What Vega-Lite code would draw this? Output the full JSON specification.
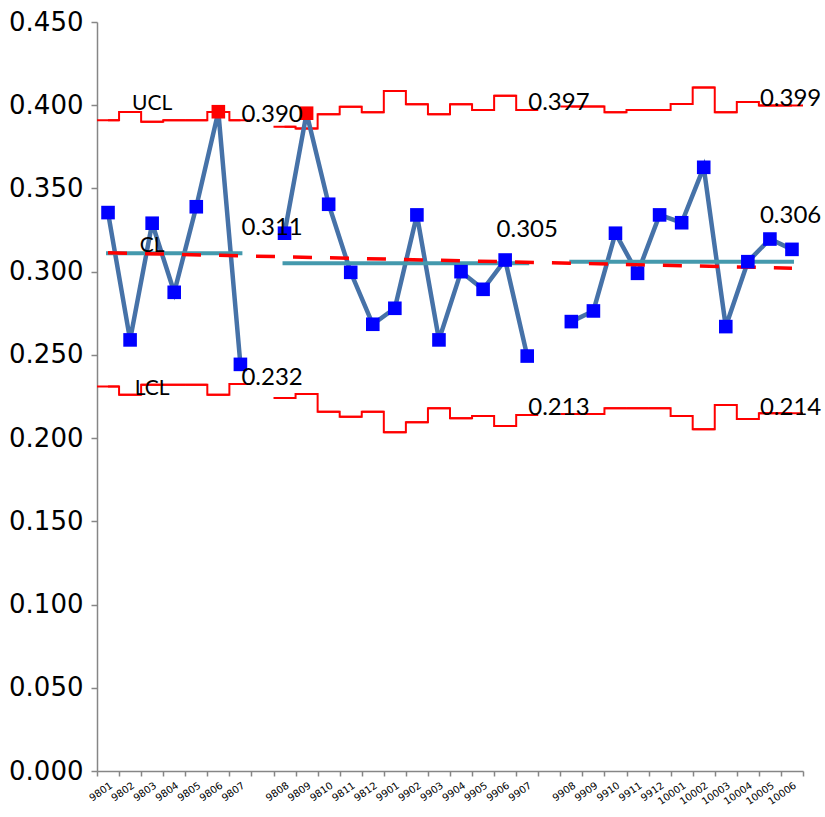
{
  "$schema": "https://vega.github.io/schema/vega-lite/v6.json",
  "width": 706,
  "height": 749,
  "padding": {"left": 8, "top": 9, "right": 5, "bottom": 5},
  "background": "white",
  "config": {"view": {"stroke": null}},
  "datasets": {
    "main": [
      {"cat": "9801", "seg": 1, "p": 0.3355, "ucl": 0.391, "lcl": 0.231, "cl": 0.311, "flag": "in"},
      {"cat": "9802", "seg": 1, "p": 0.259, "ucl": 0.396, "lcl": 0.226, "cl": 0.311, "flag": "in"},
      {"cat": "9803", "seg": 1, "p": 0.3291, "ucl": 0.390, "lcl": 0.232, "cl": 0.311, "flag": "in"},
      {"cat": "9804", "seg": 1, "p": 0.2876, "ucl": 0.391, "lcl": 0.232, "cl": 0.311, "flag": "in"},
      {"cat": "9805", "seg": 1, "p": 0.339, "ucl": 0.391, "lcl": 0.232, "cl": 0.311, "flag": "in"},
      {"cat": "9806", "seg": 1, "p": 0.3961, "ucl": 0.396, "lcl": 0.226, "cl": 0.311, "flag": "out"},
      {"cat": "9807", "seg": 1, "p": 0.2443, "ucl": 0.391, "lcl": 0.2325, "cl": 0.311, "flag": "in"},
      {"cat": "9808", "seg": 2, "p": 0.3231, "ucl": 0.387, "lcl": 0.2241, "cl": 0.305, "flag": "in"},
      {"cat": "9809", "seg": 2, "p": 0.3952, "ucl": 0.386, "lcl": 0.2265, "cl": 0.305, "flag": "out"},
      {"cat": "9810", "seg": 2, "p": 0.3405, "ucl": 0.3946, "lcl": 0.2159, "cl": 0.305, "flag": "in"},
      {"cat": "9811", "seg": 2, "p": 0.2996, "ucl": 0.3991, "lcl": 0.2129, "cl": 0.305, "flag": "in"},
      {"cat": "9812", "seg": 2, "p": 0.2684, "ucl": 0.3958, "lcl": 0.2159, "cl": 0.305, "flag": "in"},
      {"cat": "9901", "seg": 2, "p": 0.278, "ucl": 0.4086, "lcl": 0.2035, "cl": 0.305, "flag": "in"},
      {"cat": "9902", "seg": 2, "p": 0.3341, "ucl": 0.4006, "lcl": 0.2095, "cl": 0.305, "flag": "in"},
      {"cat": "9903", "seg": 2, "p": 0.259, "ucl": 0.3946, "lcl": 0.2179, "cl": 0.305, "flag": "in"},
      {"cat": "9904", "seg": 2, "p": 0.300, "ucl": 0.4006, "lcl": 0.2119, "cl": 0.305, "flag": "in"},
      {"cat": "9905", "seg": 2, "p": 0.2894, "ucl": 0.3972, "lcl": 0.2133, "cl": 0.305, "flag": "in"},
      {"cat": "9906", "seg": 2, "p": 0.307, "ucl": 0.4057, "lcl": 0.2073, "cl": 0.305, "flag": "in"},
      {"cat": "9907", "seg": 2, "p": 0.2493, "ucl": 0.3972, "lcl": 0.2139, "cl": 0.305, "flag": "in"},
      {"cat": "9908", "seg": 3, "p": 0.270, "ucl": 0.3993, "lcl": 0.2145, "cl": 0.306, "flag": "in"},
      {"cat": "9909", "seg": 3, "p": 0.2764, "ucl": 0.3993, "lcl": 0.2145, "cl": 0.306, "flag": "in"},
      {"cat": "9910", "seg": 3, "p": 0.3231, "ucl": 0.3958, "lcl": 0.2179, "cl": 0.306, "flag": "in"},
      {"cat": "9911", "seg": 3, "p": 0.299, "ucl": 0.3972, "lcl": 0.2179, "cl": 0.306, "flag": "in"},
      {"cat": "9912", "seg": 3, "p": 0.3341, "ucl": 0.3972, "lcl": 0.2179, "cl": 0.306, "flag": "in"},
      {"cat": "10001", "seg": 3, "p": 0.3294, "ucl": 0.4008, "lcl": 0.2133, "cl": 0.306, "flag": "in"},
      {"cat": "10002", "seg": 3, "p": 0.3627, "ucl": 0.4107, "lcl": 0.2053, "cl": 0.306, "flag": "in"},
      {"cat": "10003", "seg": 3, "p": 0.267, "ucl": 0.3958, "lcl": 0.2199, "cl": 0.306, "flag": "in"},
      {"cat": "10004", "seg": 3, "p": 0.306, "ucl": 0.402, "lcl": 0.2115, "cl": 0.306, "flag": "in"},
      {"cat": "10005", "seg": 3, "p": 0.3196, "ucl": 0.3999, "lcl": 0.2149, "cl": 0.306, "flag": "in"},
      {"cat": "10006", "seg": 3, "p": 0.3134, "ucl": 0.3999, "lcl": 0.2149, "cl": 0.306, "flag": "in"}
    ],
    "trend": [
      {"cat": "9801", "v": 0.3113},
      {"cat": "10006", "v": 0.3021}
    ],
    "labels": [
      {"cat": "9807", "ly": 0.3941, "t": "0.390", "grp": "left"},
      {"cat": "9807", "ly": 0.3262, "t": "0.311", "grp": "left"},
      {"cat": "9807", "ly": 0.2361, "t": "0.232", "grp": "left"},
      {"cat": "9907", "ly": 0.4013, "t": "0.397", "grp": "left"},
      {"cat": "9907", "ly": 0.2181, "t": "0.213", "grp": "left"},
      {"cat": "10005", "ly": 0.4037, "t": "0.399", "grp": "right"},
      {"cat": "10005", "ly": 0.3334, "t": "0.306", "grp": "right"},
      {"cat": "10005", "ly": 0.2181, "t": "0.214", "grp": "right"},
      {"cat": "9907", "ly": 0.325, "t": "0.305", "grp": "center"},
      {"cat": "9803", "ly": 0.4007, "t": "UCL", "grp": "word"},
      {"cat": "9803", "ly": 0.3154, "t": "CL", "grp": "word"},
      {"cat": "9803", "ly": 0.2295, "t": "LCL", "grp": "word"}
    ]
  },
  "layer": [
    {
      "data": {"name": "main"},
      "mark": {"type": "line", "interpolate": "step", "color": "#FF0000", "strokeWidth": 2},
      "encoding": {
        "x": {"field": "cat", "type": "ordinal", "title": null,
          "scale": {"domain": ["9801","9802","9803","9804","9805","9806","9807"," ","9808","9809","9810","9811","9812","9901","9902","9903","9904","9905","9906","9907","  ","9908","9909","9910","9911","9912","10001","10002","10003","10004","10005","10006"], "paddingInner": 0, "paddingOuter": 0},
          "axis": {"labelAngle": -35, "labelFont": "DejaVu Sans", "labelFontSize": 10, "labelColor": "black", "labelPadding": 4, "tickBand": "extent", "tickSize": 5, "tickWidth": 1.5, "tickColor": "#868686", "domainColor": "#868686", "domainWidth": 1.5}},
        "y": {"field": "ucl", "type": "quantitative", "title": null, "scale": {"domain": [0, 0.45], "nice": false},
          "axis": {"tickCount": 9, "format": ".3f", "labelFont": "DejaVu Sans", "labelFontSize": 26, "labelColor": "black", "labelPadding": 8, "tickSize": 6, "tickWidth": 1.5, "tickColor": "#868686", "domainColor": "#868686", "domainWidth": 1.5, "grid": false}},
        "detail": {"field": "seg", "type": "nominal"}
      }
    },
    {
      "data": {"name": "main"},
      "mark": {"type": "line", "interpolate": "step", "color": "#FF0000", "strokeWidth": 2},
      "encoding": {
        "x": {"field": "cat", "type": "ordinal"},
        "y": {"field": "lcl", "type": "quantitative"},
        "detail": {"field": "seg", "type": "nominal"}
      }
    },
    {
      "data": {"name": "main"},
      "mark": {"type": "bar", "fill": "transparent", "stroke": "#FF0000", "strokeWidth": 2},
      "encoding": {
        "x": {"field": "cat", "type": "ordinal"},
        "y": {"field": "ucl", "type": "quantitative"},
        "y2": {"field": "ucl"}
      }
    },
    {
      "data": {"name": "main"},
      "mark": {"type": "bar", "fill": "transparent", "stroke": "#FF0000", "strokeWidth": 2},
      "encoding": {
        "x": {"field": "cat", "type": "ordinal"},
        "y": {"field": "lcl", "type": "quantitative"},
        "y2": {"field": "lcl"}
      }
    },
    {
      "data": {"name": "main"},
      "mark": {"type": "line", "color": "#4672A8", "strokeWidth": 4.5},
      "encoding": {
        "x": {"field": "cat", "type": "ordinal"},
        "y": {"field": "p", "type": "quantitative"},
        "detail": {"field": "seg", "type": "nominal"}
      }
    },
    {
      "data": {"name": "main"},
      "mark": {"type": "line", "color": "#4499AD", "strokeWidth": 4, "strokeCap": "square"},
      "encoding": {
        "x": {"field": "cat", "type": "ordinal"},
        "y": {"field": "cl", "type": "quantitative"},
        "detail": {"field": "seg", "type": "nominal"}
      }
    },
    {
      "data": {"name": "trend"},
      "mark": {"type": "line", "color": "#FF0000", "strokeWidth": 3.5, "strokeDash": [19, 18]},
      "encoding": {
        "x": {"field": "cat", "type": "ordinal"},
        "y": {"field": "v", "type": "quantitative"}
      }
    },
    {
      "data": {"name": "main"},
      "mark": {"type": "point", "shape": "square", "filled": true, "size": 185, "opacity": 1},
      "encoding": {
        "x": {"field": "cat", "type": "ordinal"},
        "y": {"field": "p", "type": "quantitative"},
        "color": {"field": "flag", "type": "nominal", "scale": {"domain": ["in", "out"], "range": ["#0000FF", "#FF0000"]}, "legend": null}
      }
    },
    {
      "data": {"name": "labels"},
      "transform": [{"filter": "datum.grp == 'left'"}],
      "mark": {"type": "text", "align": "left", "baseline": "middle", "dx": 1, "font": "Lato", "fontSize": 24, "color": "black"},
      "encoding": {
        "x": {"field": "cat", "type": "ordinal"},
        "y": {"field": "ly", "type": "quantitative"},
        "text": {"field": "t", "type": "nominal"}
      }
    },
    {
      "data": {"name": "labels"},
      "transform": [{"filter": "datum.grp == 'right'"}],
      "mark": {"type": "text", "align": "left", "baseline": "middle", "dx": -10, "font": "Lato", "fontSize": 24, "color": "black"},
      "encoding": {
        "x": {"field": "cat", "type": "ordinal"},
        "y": {"field": "ly", "type": "quantitative"},
        "text": {"field": "t", "type": "nominal"}
      }
    },
    {
      "data": {"name": "labels"},
      "transform": [{"filter": "datum.grp == 'center'"}],
      "mark": {"type": "text", "align": "center", "baseline": "middle", "font": "Lato", "fontSize": 24, "color": "black"},
      "encoding": {
        "x": {"field": "cat", "type": "ordinal"},
        "y": {"field": "ly", "type": "quantitative"},
        "text": {"field": "t", "type": "nominal"}
      }
    },
    {
      "data": {"name": "labels"},
      "transform": [{"filter": "datum.grp == 'word'"}],
      "mark": {"type": "text", "align": "center", "baseline": "middle", "font": "Lato", "fontSize": 21, "color": "black"},
      "encoding": {
        "x": {"field": "cat", "type": "ordinal"},
        "y": {"field": "ly", "type": "quantitative"},
        "text": {"field": "t", "type": "nominal"}
      }
    }
  ]
}
